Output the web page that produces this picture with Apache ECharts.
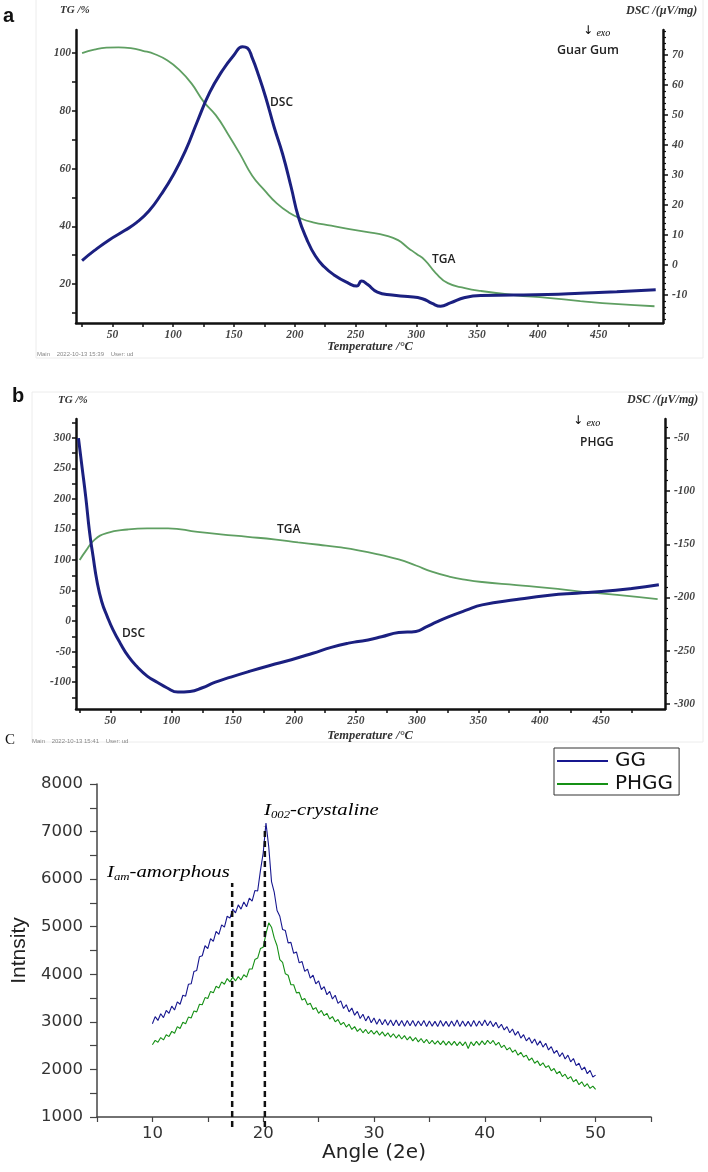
<!DOCTYPE html>
<html>
<head>
<meta charset="utf-8">
<script src="https://cdn.jsdelivr.net/npm/echarts@6/dist/echarts.min.js"></script>
<style>
  html, body { margin: 0; padding: 0; background: #fff; }
  #main { width: 708px; height: 1172px; }
</style>
</head>
<body>
<div id="main"></div>
<script>
// ---- panel a : Guar Gum (TG / DSC) ----
const aTgTemp = [25, 35, 45, 55, 65, 75, 85, 95, 105, 115, 125, 135, 145, 155, 165, 175, 185, 195, 205, 215, 230, 245, 260, 275, 285, 293, 300, 307, 316, 326, 340, 353, 380, 408, 435, 463, 496]
const aTgValue = [100, 101.2, 101.9, 102, 101.7, 100.8, 99.6, 97.5, 94.2, 89.5, 83.2, 78.5, 72, 65, 57.5, 52.5, 48, 44.8, 42.7, 41.4, 40.2, 39, 38, 36.8, 35.2, 32.6, 30.5, 28.3, 23.8, 20.3, 18.6, 17.6, 16.2, 15.2, 14.1, 13.1, 12.3]
const aDscTemp = [25, 35, 47, 60, 70, 80, 90, 100, 110, 120, 130, 140, 150, 157, 161, 165, 170, 176, 183, 190, 197, 203, 210, 217, 224, 232, 244, 251, 255, 260, 268, 280, 293, 305, 313, 320, 328, 340, 353, 380, 408, 435, 465, 497]
const aDscValue = [1.5, 4.8, 8.3, 11.5, 14.2, 18, 23.5, 30, 38, 48, 57.5, 64.5, 70, 72.7, 72.3, 69, 63.5, 56, 46, 37, 26, 16, 8.5, 3, -0.5, -3.2, -6, -7, -5.3, -6.5, -9, -10, -10.5, -11.2, -12.8, -13.7, -12.6, -10.8, -10.1, -10, -9.8, -9.4, -8.9, -8.2]

// ---- panel b : PHGG (TG / DSC) ----
const bTgTemp = [25, 30, 37, 47, 64, 80, 97, 121, 140, 162, 185, 203, 220, 236, 252, 271, 285, 299, 312, 326, 340, 353, 381, 408, 435, 463, 496]
const bTgValue = [100, 115, 133, 144, 150, 152, 152, 146, 142, 138, 133.5, 129, 125, 121, 116, 108, 101, 91, 81, 73, 67.5, 64, 59, 54, 48, 43, 36]
const bDscTemp = [24, 27, 30, 33, 36, 39, 43, 47.5, 52, 58, 65, 72, 80, 88.5, 96, 105, 115, 125, 135, 148, 162, 180, 197.5, 215, 230, 244, 252, 260, 271, 285, 299, 307, 316, 326, 340, 353, 381, 408, 430, 450, 475, 497]
const bDscValue = [-50, -78, -106, -138, -162, -184, -204, -218, -230, -243, -256, -265.5, -274, -280, -285, -289, -288.5, -285, -280, -275, -270, -264, -258.6, -252.5, -247, -243, -241.5, -240, -237, -233, -232, -228, -223, -218, -212, -207, -202, -198, -196, -194.5, -191.5, -188]

// tick labels for the thermal panels
const tempLabels = [50, 100, 150, 200, 250, 300, 350, 400, 450]
const tempTicks = [25, 50, 75, 100, 125, 150, 175, 200, 225, 250, 275, 300, 325, 350, 375, 400, 425, 450, 475]
const aTgLabels = [20, 40, 60, 80, 100]
const aTgTicks = [10, 20, 30, 40, 50, 60, 70, 80, 90, 100]
const aDscLabels = [-10, 0, 10, 20, 30, 40, 50, 60, 70]
const aDscMinor = [-18, -16, -14, -12, -8, -6, -4, -2, 2, 4, 6, 8, 12, 14, 16, 18, 22, 24, 26, 28, 32, 34, 36, 38, 42, 44, 46, 48, 52, 54, 56, 58, 62, 64, 66, 68, 72, 74, 76, 78]
const bTgLabels = [-100, -50, 0, 50, 100, 150, 200, 250, 300]
const bTgTicks = [-125, -100, -75, -50, -25, 0, 25, 50, 75, 100, 125, 150, 175, 200, 225, 250, 275, 300, 325]
const bDscLabels = [-300, -250, -200, -150, -100, -50]
const bDscMinor = [-290, -280, -270, -260, -240, -230, -220, -210, -190, -180, -170, -160, -140, -130, -120, -110, -90, -80, -70, -60, -40]

// ---- panel c : XRD, one reading every 0.25 deg from 10 to 50 ----
const xrdStart = 10
const xrdStep = 0.25
const ggIntensity = [
  2960, 3110, 3030, 3170, 3090, 3240, 3180, 3330, 3250, 3420,
  3370, 3560, 3540, 3790, 3800, 4060, 4080, 4370, 4390, 4600,
  4540, 4750, 4690, 4900, 4840, 5040, 4990, 5220, 5180, 5370,
  5290, 5460, 5370, 5520, 5420, 5600, 5540, 5760, 5750, 6180,
  6550, 7180, 6680, 5950, 5720, 5340, 5220, 4940, 4920, 4660,
  4670, 4440, 4470, 4240, 4270, 4060, 4110, 3920, 3980, 3800,
  3860, 3680, 3740, 3570, 3640, 3480, 3560, 3390, 3440, 3280,
  3360, 3210, 3290, 3140, 3220, 3070, 3160, 3020, 3120, 2980,
  3080, 2950, 3060, 2940, 3050, 2930, 3040, 2920, 3040, 2920,
  3030, 2910, 3030, 2920, 3030, 2910, 3020, 2920, 3030, 2900,
  3020, 2910, 3010, 2900, 3030, 2910, 3010, 2900, 3020, 2910,
  3040, 2900, 3020, 2910, 3010, 2900, 3030, 2910, 3020, 2920,
  3040, 2920, 3020, 2900, 2990, 2870, 2950, 2830, 2900, 2770,
  2850, 2720, 2800, 2660, 2730, 2600, 2670, 2550, 2640, 2510,
  2600, 2470, 2550, 2410, 2480, 2340, 2400, 2270, 2350, 2220,
  2300, 2160, 2230, 2080, 2130, 1990, 2050, 1910, 1980, 1840,
  1880
]
const phggIntensity = [
  2520, 2610, 2570, 2670, 2620, 2730, 2690, 2800, 2760, 2900,
  2860, 2990, 2960, 3100, 3080, 3230, 3210, 3370, 3360, 3510,
  3490, 3640, 3610, 3750, 3710, 3840, 3790, 3910, 3840, 3940,
  3860, 3950, 3880, 3990, 3940, 4110, 4110, 4310, 4340, 4540,
  4570, 4850, 5080, 4990, 4760, 4600, 4310, 4250, 4010, 3980,
  3780, 3780, 3610, 3620, 3460, 3490, 3360, 3390, 3260, 3300,
  3180, 3240, 3130, 3180, 3060, 3110, 3000, 3050, 2940, 2990,
  2890, 2950, 2840, 2900, 2800, 2860, 2770, 2840, 2750, 2820,
  2740, 2810, 2720, 2790, 2700, 2770, 2680, 2750, 2660, 2730,
  2640, 2710, 2620, 2690, 2600, 2670, 2580, 2650, 2560, 2630,
  2540, 2610, 2530, 2600, 2520, 2600, 2510, 2590, 2510, 2590,
  2500, 2580, 2500, 2580, 2440, 2580, 2500, 2590, 2510, 2600,
  2520, 2610, 2540, 2610, 2510, 2570, 2460, 2510, 2410, 2460,
  2360, 2410, 2300, 2360, 2260, 2300, 2190, 2240, 2130, 2180,
  2080, 2140, 2040, 2080, 1970, 2020, 1910, 1960, 1850, 1900,
  1800, 1850, 1740, 1790, 1680, 1740, 1640, 1700, 1600, 1650,
  1580
]
// dashed guide lines: [angle, bottom, top]
const amorphousLine = [17.2, 790, 5920]
const crystalLine = [20.15, 790, 7100]

const zip = (xs, ys) => xs.map((x, i) => [x, ys[i]])
const xrdPoints = vals => vals.map((v, i) => [xrdStart + i * xrdStep, v])

const serif = { fontFamily: 'Liberation Serif', fontStyle: 'italic', fontWeight: 'bold', fontSize: 11.5, color: '#444' }
const sans = { fontFamily: 'DejaVu Sans', fontSize: 16.5, color: '#333' }

function tempAxis(grid, min, max) {
  return {
    type: 'value', gridIndex: grid, min, max,
    axisLine: { onZero: false, lineStyle: { color: '#111', width: 2.5 } },
    axisTick: { customValues: tempTicks, length: 4, lineStyle: { color: '#111', width: 1.5 } },
    axisLabel: { customValues: tempLabels, margin: 6, ...serif },
    splitLine: { show: false }
  }
}
function sideAxis(grid, pos, min, max, ticks, labels, len, margin) {
  return {
    type: 'value', gridIndex: grid, position: pos, min, max,
    axisLine: { show: true, onZero: false, lineStyle: { color: '#111', width: 2.5 } },
    axisTick: { customValues: ticks, length: len, lineStyle: { color: '#111', width: 1.5 } },
    axisLabel: { customValues: labels, margin, ...serif },
    splitLine: { show: false }
  }
}
function minorAxis(grid, min, max, ticks) {
  return {
    type: 'value', gridIndex: grid, position: 'right', min, max,
    axisLine: { show: false, onZero: false },
    axisTick: { customValues: ticks, length: 3, lineStyle: { color: '#111', width: 1.2 } },
    axisLabel: { show: false },
    splitLine: { show: false }
  }
}
function txt(x, y, text, font, extra) {
  return {
    type: 'text', x, y, silent: true,
    style: Object.assign({ text, font, fill: '#222', textAlign: 'left', textVerticalAlign: 'middle' }, extra || {})
  }
}
const exoRich = {
  a: { fontFamily: 'DejaVu Sans', fontSize: 12, color: '#222' },
  e: { fontFamily: 'Liberation Serif', fontStyle: 'italic', fontSize: 10, color: '#222', padding: [4, 0, 0, 0] }
}
const annRich = {
  i: { fontFamily: 'Liberation Serif', fontStyle: 'italic', fontSize: 17, color: '#333', lineHeight: 19 },
  s: { fontFamily: 'Liberation Serif', fontStyle: 'italic', fontSize: 10.5, color: '#333', lineHeight: 10, verticalAlign: 'bottom' }
}

const chart = echarts.init(document.getElementById('main'))
chart.setOption({
  backgroundColor: '#fff',
  animation: false,
  grid: [
    { left: 76, top: 30, width: 587, height: 293 },
    { left: 76, top: 419, width: 589, height: 290 },
    { left: 97, top: 784, width: 554, height: 333 }
  ],
  legend: {
    data: ['GG', 'PHGG'],
    orient: 'vertical', left: 554, top: 748,
    icon: 'rect', itemWidth: 51, itemHeight: 2, itemGap: 3,
    borderColor: '#333', borderWidth: 1, padding: [3, 6, 1, 3],
    textStyle: { fontFamily: 'DejaVu Sans', fontSize: 20, color: '#111', padding: [0, 0, 0, 2] }
  },
  xAxis: [
    tempAxis(0, 20, 503),
    tempAxis(1, 22, 502),
    {
      type: 'value', gridIndex: 2, min: 5, max: 55, interval: 5,
      name: 'Angle (2e)', nameLocation: 'middle', nameGap: 26,
      nameTextStyle: { fontFamily: 'DejaVu Sans', fontSize: 20, color: '#222' },
      axisLine: { onZero: false, lineStyle: { color: '#444', width: 1.5 } },
      axisTick: { length: 5, lineStyle: { color: '#444', width: 1.2 } },
      axisLabel: { ...sans, margin: 8, formatter: v => (v % 10 === 0 ? String(v) : '') },
      splitLine: { show: false }
    }
  ],
  yAxis: [
    sideAxis(0, 'left', 6.5, 108, aTgTicks, aTgLabels, 4, 5),
    sideAxis(0, 'right', -19.3, 78.3, aDscLabels, aDscLabels, 5, 9),
    minorAxis(0, -19.3, 78.3, aDscMinor),
    sideAxis(1, 'left', -144, 331, bTgTicks, bTgLabels, 4, 5),
    sideAxis(1, 'right', -305, -32, bDscLabels, bDscLabels, 5, 9),
    minorAxis(1, -305, -32, bDscMinor),
    {
      type: 'value', gridIndex: 2, min: 1000, max: 8000, interval: 500,
      name: 'Intnsity', nameLocation: 'middle', nameRotate: 90, nameGap: 64,
      nameTextStyle: { fontFamily: 'Liberation Sans', fontSize: 21, color: '#222' },
      axisLine: { show: true, onZero: false, lineStyle: { color: '#444', width: 1.5 } },
      axisTick: { length: 7, lineStyle: { color: '#444', width: 1.2 } },
      axisLabel: { ...sans, margin: 14, formatter: v => (v % 1000 === 0 ? String(v) : '') },
      splitLine: { show: false }
    }
  ],
  series: [
    { name: 'TG a', type: 'line', xAxisIndex: 0, yAxisIndex: 0, data: zip(aTgTemp, aTgValue), smooth: true, symbol: 'none', lineStyle: { color: '#5f9f62', width: 1.8 } },
    { name: 'DSC a', type: 'line', xAxisIndex: 0, yAxisIndex: 1, data: zip(aDscTemp, aDscValue), smooth: true, symbol: 'none', lineStyle: { color: '#1b2080', width: 3 } },
    { name: 'TG b', type: 'line', xAxisIndex: 1, yAxisIndex: 3, data: zip(bTgTemp, bTgValue), smooth: true, symbol: 'none', lineStyle: { color: '#5f9f62', width: 1.8 } },
    { name: 'DSC b', type: 'line', xAxisIndex: 1, yAxisIndex: 4, data: zip(bDscTemp, bDscValue), smooth: true, symbol: 'none', lineStyle: { color: '#1b2080', width: 3 } },
    { name: 'GG', type: 'line', xAxisIndex: 2, yAxisIndex: 6, data: xrdPoints(ggIntensity), symbol: 'none', color: '#17178f', lineStyle: { color: '#17178f', width: 1.1 } },
    { name: 'PHGG', type: 'line', xAxisIndex: 2, yAxisIndex: 6, data: xrdPoints(phggIntensity), symbol: 'none', color: '#159015', lineStyle: { color: '#159015', width: 1.1 } },
    { name: 'am', type: 'line', xAxisIndex: 2, yAxisIndex: 6, clip: false, symbol: 'none', data: [[amorphousLine[0], amorphousLine[1]], [amorphousLine[0], amorphousLine[2]]], lineStyle: { color: '#111', width: 2.5, type: [6, 4] } },
    { name: 'cr', type: 'line', xAxisIndex: 2, yAxisIndex: 6, clip: false, symbol: 'none', data: [[crystalLine[0], crystalLine[1]], [crystalLine[0], crystalLine[2]]], lineStyle: { color: '#111', width: 2.5, type: [6, 4] } }
  ],
  graphic: [
    // faint screenshot frames of the two instrument plots
    { type: 'rect', silent: true, z: -1, shape: { x: 36, y: -2, width: 667, height: 360 }, style: { fill: 'none', stroke: '#ececec', lineWidth: 1 } },
    { type: 'rect', silent: true, z: -1, shape: { x: 32, y: 392, width: 671, height: 350 }, style: { fill: 'none', stroke: '#ececec', lineWidth: 1 } },
    // panel a
    txt(3, 16, 'a', 'bold 20px Liberation Sans', { fill: '#111' }),
    txt(60, 10, 'TG /%', 'italic bold 11px Liberation Serif', { fill: '#333' }),
    txt(626, 11, 'DSC /(µV/mg)', 'italic bold 12px Liberation Serif', { fill: '#333' }),
    { type: 'text', x: 583, y: 31, silent: true, style: { text: '{a|↓} {e|exo}', rich: exoRich, textVerticalAlign: 'middle' } },
    txt(557, 50, 'Guar Gum', '600 12.5px Open Sans'),
    txt(270, 103, 'DSC', '600 12px Open Sans'),
    txt(432, 260, 'TGA', '600 12px Open Sans'),
    txt(370, 347, 'Temperature /°C', 'italic bold 12.5px Liberation Serif', { textAlign: 'center', fill: '#333' }),
    txt(37, 354, 'Main    2022-10-13 15:39    User: ud', '6px Liberation Sans', { fill: '#888' }),
    // panel b
    txt(12, 396, 'b', 'bold 20px Liberation Sans', { fill: '#111' }),
    txt(58, 400, 'TG /%', 'italic bold 11px Liberation Serif', { fill: '#333' }),
    txt(627, 400, 'DSC /(µV/mg)', 'italic bold 12px Liberation Serif', { fill: '#333' }),
    { type: 'text', x: 573, y: 421, silent: true, style: { text: '{a|↓} {e|exo}', rich: exoRich, textVerticalAlign: 'middle' } },
    txt(580, 443, 'PHGG', '600 12px Open Sans'),
    txt(277, 530, 'TGA', '600 12px Open Sans'),
    txt(122, 634, 'DSC', '600 12px Open Sans'),
    txt(370, 736, 'Temperature /°C', 'italic bold 12.5px Liberation Serif', { textAlign: 'center', fill: '#333' }),
    txt(32, 741, 'Main    2022-10-13 15:41    User: ud', '6px Liberation Sans', { fill: '#888' }),
    // panel c
    txt(5, 740, 'C', '15px Liberation Serif', { fill: '#111' }),
    { type: 'text', x: 107, y: 873, scaleX: 1.22, silent: true, style: { text: '{i|I}{s|am}{i|-amorphous}', rich: annRich, textVerticalAlign: 'middle' } },
    { type: 'text', x: 264, y: 811, scaleX: 1.22, silent: true, style: { text: '{i|I}{s|002}{i|-crystaline}', rich: annRich, textVerticalAlign: 'middle' } }
  ]
})
</script>
</body>
</html>
